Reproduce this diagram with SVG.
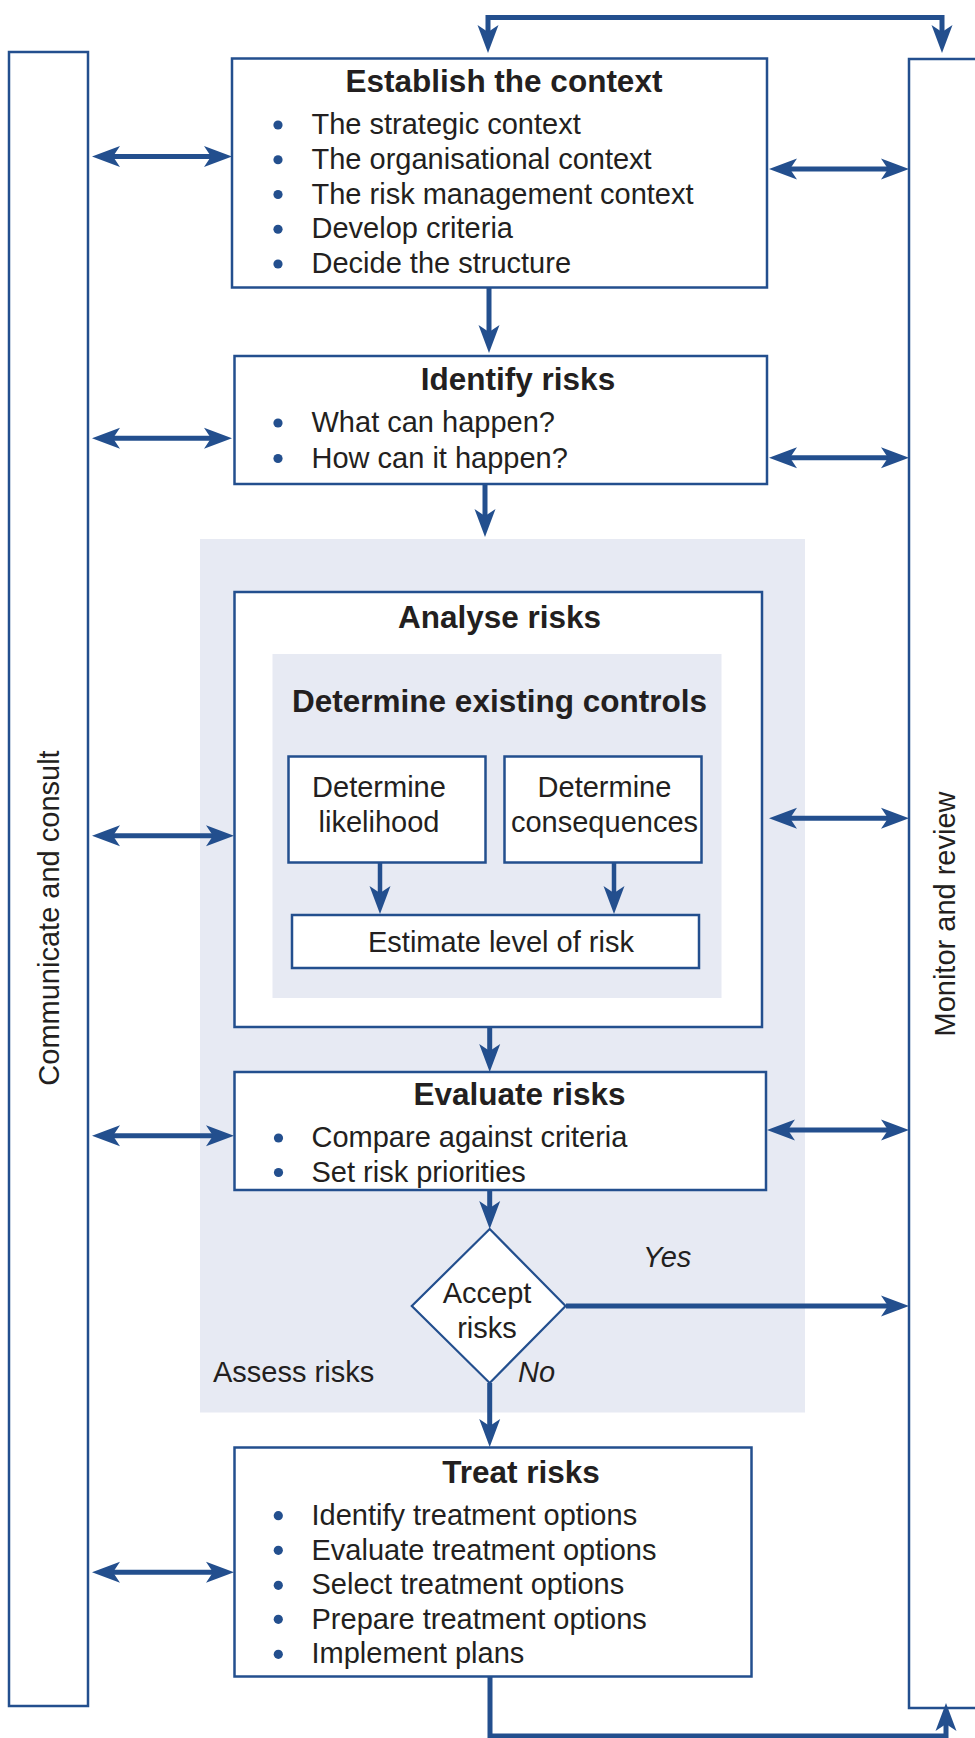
<svg xmlns="http://www.w3.org/2000/svg" width="975" height="1738" viewBox="0 0 975 1738">
<style>
.box{fill:#fff;stroke:#234f8e;stroke-width:2.5}
.panel{fill:#fff;stroke:#234f8e;stroke-width:2.5}
.shade{fill:#e7eaf3}
.t{font-family:"Liberation Sans",Arial,sans-serif;font-size:29px;fill:#231f20}
.b{font-family:"Liberation Sans",Arial,sans-serif;font-size:31.5px;font-weight:bold;fill:#231f20;text-anchor:middle}
.c{text-anchor:middle}
.i{font-style:italic}
.dot{fill:#234f8e}
.conn{fill:none;stroke:#234f8e;stroke-width:5}
.thin{stroke-width:4.5}
.arr{marker-end:url(#ah)}
.dbl{marker-start:url(#ah);marker-end:url(#ah)}
</style>
<defs>
<marker id="ah" viewBox="0 0 30 22" refX="13" refY="11" markerWidth="30" markerHeight="22" markerUnits="userSpaceOnUse" orient="auto-start-reverse">
<path d="M28,11 L0,0.5 L7,11 L0,21.5 Z" fill="#234f8e"/>
</marker>
</defs>

<g id="side-communicate">
<rect class="panel" x="9" y="52" width="79" height="1654"/>
<text class="t c" transform="translate(59,918) rotate(-90)">Communicate and consult</text>
</g>
<g id="side-monitor">
<rect class="panel" x="909" y="59" width="75" height="1649"/>
<text class="t c" transform="translate(955,914) rotate(-90)">Monitor and review</text>
</g>

<g id="assess-risks">
<rect class="shade" x="200" y="539" width="605" height="873.5"/>
<text class="t" x="213" y="1382">Assess risks</text>
</g>

<g id="establish-context">
<rect class="box" x="232" y="58.5" width="535" height="229"/>
<text class="b" x="504" y="92">Establish the context</text>
<circle class="dot" cx="278" cy="125" r="4.6"/>
<circle class="dot" cx="278" cy="159.75" r="4.6"/>
<circle class="dot" cx="278" cy="194.5" r="4.6"/>
<circle class="dot" cx="278" cy="229.25" r="4.6"/>
<circle class="dot" cx="278" cy="264" r="4.6"/>
<text class="t" x="311.5" y="134">The strategic context</text>
<text class="t" x="311.5" y="168.75">The organisational context</text>
<text class="t" x="311.5" y="203.5">The risk management context</text>
<text class="t" x="311.5" y="238.25">Develop criteria</text>
<text class="t" x="311.5" y="273">Decide the structure</text>
</g>

<g id="identify-risks">
<rect class="box" x="234.5" y="356" width="532.5" height="128"/>
<text class="b" x="518" y="390">Identify risks</text>
<circle class="dot" cx="278" cy="423" r="4.6"/>
<circle class="dot" cx="278" cy="458.5" r="4.6"/>
<text class="t" x="311.5" y="432">What can happen?</text>
<text class="t" x="311.5" y="467.5">How can it happen?</text>
</g>

<g id="analyse-risks">
<rect class="box" x="234.5" y="592" width="527.5" height="435"/>
<text class="b" x="499.5" y="628">Analyse risks</text>
</g>

<g id="determine-existing-controls">
<rect class="shade" x="272.5" y="654" width="449" height="344"/>
<text class="b" x="499.5" y="712">Determine existing controls</text>
</g>

<g id="determine-likelihood">
<rect class="box" x="288.5" y="756.5" width="197" height="106"/>
<text class="t c" x="379" y="797">Determine</text>
<text class="t c" x="379" y="832">likelihood</text>
</g>

<g id="determine-consequences">
<rect class="box" x="504.5" y="756.5" width="197" height="106"/>
<text class="t c" x="604.5" y="797">Determine</text>
<text class="t c" x="604.5" y="832">consequences</text>
</g>

<g id="estimate-level">
<rect class="box" x="292" y="915" width="407" height="53"/>
<text class="t c" x="501" y="952">Estimate level of risk</text>
</g>

<g id="evaluate-risks">
<rect class="box" x="234.5" y="1072" width="531.5" height="118"/>
<text class="b" x="519.5" y="1105">Evaluate risks</text>
<circle class="dot" cx="278.5" cy="1138" r="4.6"/>
<circle class="dot" cx="278.5" cy="1172.5" r="4.6"/>
<text class="t" x="311.5" y="1147">Compare against criteria</text>
<text class="t" x="311.5" y="1181.7">Set risk priorities</text>
</g>

<g id="accept-risks">
<polygon points="489.7,1229 565.6,1306 489.7,1383 411.8,1306" fill="#fff" stroke="#234f8e" stroke-width="2.2"/>
<text class="t c" x="487" y="1303">Accept</text>
<text class="t c" x="487" y="1338">risks</text>
</g>

<g id="treat-risks">
<rect class="box" x="234.5" y="1447.5" width="517" height="229"/>
<text class="b" x="521" y="1483">Treat risks</text>
<circle class="dot" cx="278.3" cy="1515.7" r="4.6"/>
<circle class="dot" cx="278.3" cy="1550.3" r="4.6"/>
<circle class="dot" cx="278.3" cy="1585.3" r="4.6"/>
<circle class="dot" cx="278.3" cy="1619.3" r="4.6"/>
<circle class="dot" cx="278.3" cy="1654.3" r="4.6"/>
<text class="t" x="311.5" y="1525">Identify treatment options</text>
<text class="t" x="311.5" y="1559.5">Evaluate treatment options</text>
<text class="t" x="311.5" y="1594">Select treatment options</text>
<text class="t" x="311.5" y="1628.5">Prepare treatment options</text>
<text class="t" x="311.5" y="1663">Implement plans</text>
</g>

<g id="connectors">
<path class="conn dbl" d="M488,38 V17.5 H942 V38"/>
<path class="conn arr" d="M489,288 V338"/>
<path class="conn arr" d="M485,484 V522"/>
<path class="conn thin arr" d="M380,862 V899"/>
<path class="conn thin arr" d="M614,862 V899"/>
<path class="conn arr" d="M489.7,1027 V1057"/>
<path class="conn arr" d="M489.7,1191 V1214"/>
<path class="conn arr" d="M489.7,1383 V1432"/>
<path class="conn arr" d="M566,1306 H894"/>
<text class="t i" x="643" y="1267">Yes</text>
<text class="t i" x="518" y="1382">No</text>
<path class="conn arr" d="M490,1677 V1736 H946 V1718"/>
<path class="conn dbl" d="M107,156.5 H217"/>
<path class="conn dbl" d="M107,438.3 H217"/>
<path class="conn dbl" d="M107,835.7 H219"/>
<path class="conn dbl" d="M107,1135.7 H219"/>
<path class="conn dbl" d="M107,1572.3 H219"/>
<path class="conn dbl" d="M784,169 H894"/>
<path class="conn dbl" d="M784,457.7 H894"/>
<path class="conn dbl" d="M784,818.3 H894"/>
<path class="conn dbl" d="M782,1130 H894"/>
</g>
</svg>
